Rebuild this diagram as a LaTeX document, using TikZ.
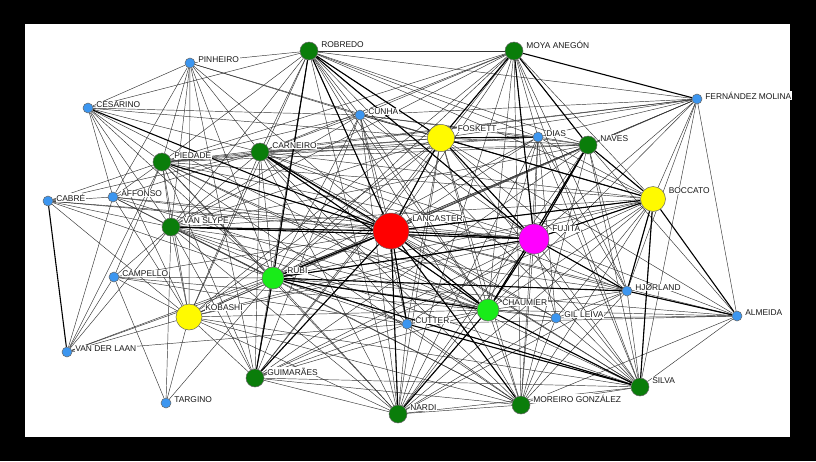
\documentclass[tikz,border=0pt]{standalone}
\usepackage{fontspec}
\setmainfont{Liberation Sans}
\pgfdeclarelayer{bglayer}
\pgfdeclarelayer{edgelayer}
\pgfsetlayers{bglayer,edgelayer,main}
\definecolor{dgreen}{RGB}{10,125,10}
\definecolor{lgreen}{RGB}{25,235,25}
\definecolor{nblue}{RGB}{60,150,240}
\definecolor{nyellow}{RGB}{255,250,0}
\definecolor{nmag}{RGB}{255,0,255}
\definecolor{nred}{RGB}{255,0,0}
\tikzset{
  vtx/.style={circle, draw=black!60, line width=0.5pt, inner sep=0pt},
  lbl/.style={anchor=west, font=\fontsize{8.4}{9}\selectfont, text=black!90, fill=white, inner sep=0.6pt},
  thinedge/.style={line width=0.45pt, draw=black!80},
  thickedge/.style={line width=1.1pt, draw=black}
}
\begin{document}
\begin{tikzpicture}[x=1pt,y=-1pt]
\begin{pgfonlayer}{bglayer}
\fill[black] (0,0) rectangle (816,461);
\fill[white] (25,24) rectangle (790,437);
\end{pgfonlayer}
\useasboundingbox (0,0) rectangle (816,461);
% nodes: id / x / y / colour / diameter / text
\foreach \id/\x/\y/\col/\d/\txt in {
  rob/309/51/dgreen/18/ROBREDO,
  pin/190/63/nblue/10/PINHEIRO,
  ces/88/108/nblue/10/CESARINO,
  cun/360/115/nblue/10/CUNHA,
  car/260/152/dgreen/18/CARNEIRO,
  pie/162/162/dgreen/18/PIEDADE,
  cab/48/201/nblue/10/CABRÉ,
  aff/113/197/nblue/10/AFFONSO,
  vsl/171/227/dgreen/18/VAN SLYPE,
  lan/391/231/nred/36/LANCASTER,
  moy/514/51/dgreen/18/MOYA ANEGÓN,
  fer/697/99/nblue/10/FERNÁNDEZ MOLINA,
  fos/441/138/nyellow/27/FOSKETT,
  dia/538/137/nblue/10/DIAS,
  nav/588/145/dgreen/18/NAVES,
  boc/653/199/nyellow/25/BOCCATO,
  fuj/534/239/nmag/30/FUJITA,
  rub/273/278/lgreen/22/RUBI,
  cam/114/277/nblue/10/CAMPELLO,
  kob/189/317/nyellow/26/KOBASHI,
  vdl/67/352/nblue/10/VAN DER LAAN,
  gui/255/378/dgreen/18/GUIMARÃES,
  tar/166/403/nblue/10/TARGINO,
  nar/398/414/dgreen/18/NARDI,
  hjo/627/291/nblue/10/HJØRLAND,
  cha/488/310/lgreen/22/CHAUMIER,
  cut/407/324/nblue/10/CUTTER,
  gil/556/318/nblue/10/GIL LEIVA,
  alm/737/316/nblue/10/ALMEIDA,
  sil/640/387/dgreen/18/SILVA,
  mor/521/405/dgreen/18/MOREIRO GONZÁLEZ}
{
  \node[vtx, fill=\col, minimum size=\d pt] (\id) at (\x,\y) {};
  \node[lbl] (\id-t) at (\x+\d/2+2.5, \y-\d*0.35) {\txt};
}
\begin{pgfonlayer}{edgelayer}
\def\hubs{lan,fuj,fos,boc,rub,cha,kob,rob,moy,car,pie,vsl,nav,gui,nar,mor,sil}
\foreach \a [count=\i] in \hubs {
  \foreach \b [count=\j] in \hubs {
    \ifnum\i<\j \draw[thinedge] (\a) -- (\b);\fi
  }
}
\foreach \a/\b in {
  cun/rob, cun/moy, cun/car, cun/pie, cun/lan, cun/fos, cun/fuj, cun/boc, cun/rub, cun/cha, cun/nar, cun/gui, cun/vsl, cun/nav, cun/dia, cun/cut, cun/ces, cun/pin, cun/fer,
  dia/fos, dia/moy, dia/rob, dia/nav, dia/boc, dia/fuj, dia/lan, dia/rub, dia/cha, dia/car, dia/pie, dia/nar, dia/mor, dia/sil, dia/gil, dia/hjo, dia/fer,
  hjo/boc, hjo/fuj, hjo/lan, hjo/fos, hjo/rub, hjo/cha, hjo/nav, hjo/moy, hjo/sil, hjo/alm, hjo/gil, hjo/car, hjo/vsl, hjo/nar, hjo/mor, hjo/fer,
  gil/cha, gil/fuj, gil/lan, gil/boc, gil/sil, gil/mor, gil/nar, gil/rub, gil/alm, gil/car,
  cut/lan, cut/fuj, cut/rub, cut/cha, cut/mor, cut/nar, cut/gui, cut/fos, cut/car, cut/vsl, cut/alm, cut/cam, cut/vdl,
  pin/ces, pin/rob, pin/pie, pin/car, pin/vsl, pin/kob, pin/rub, pin/aff, pin/lan, pin/fos, pin/gui,
  ces/rob, ces/pie, ces/vsl, ces/aff, ces/kob, ces/car, ces/fos, ces/cha, ces/rub,
  cab/aff, cab/vsl, cab/lan, cab/rub, cab/kob, cab/pie, cab/car, cab/fuj,
  aff/vdl, aff/vsl, aff/kob, aff/lan, aff/rub, aff/car, aff/cha, aff/fuj, aff/pie,
  vdl/cam, vdl/vsl, vdl/kob, vdl/pie, vdl/rub, vdl/lan,
  cam/vsl, cam/kob, cam/tar, cam/pie, cam/lan, cam/rub, cam/cha,
  tar/kob, tar/rub, tar/vsl,
  alm/fer, alm/sil, alm/cha, alm/fuj, alm/lan, alm/rub, alm/nav, alm/fos, alm/mor,
  fer/boc, fer/sil, fer/nav, fer/fos, fer/lan, fer/fuj, fer/rob, fer/car, fer/cha, fer/pie, fer/rub}
  \draw[thinedge] (\a) -- (\b);
\foreach \a/\b in {
  lan/fuj, lan/fos, lan/rub, lan/cha, lan/boc, lan/vsl, lan/car, lan/pie, lan/nar, lan/cut, lan/rob, lan/gui,
  fuj/fos, fuj/boc, fuj/cha, fuj/rub, fuj/moy, fuj/nav, fuj/hjo, fuj/vsl,
  fos/moy, fos/boc, fos/rob, fos/dia, rub/gui, rub/sil, rub/cha, rub/hjo,
  cha/sil, cha/nar, boc/sil, boc/alm, boc/hjo, boc/nav, moy/fer, moy/nav,
  ces/lan, cab/vdl, alm/hjo, cut/sil, car/cha, rob/rub, rob/fuj, mor/lan, nav/cha}
  \draw[thickedge] (\a) -- (\b);
\end{pgfonlayer}
\end{tikzpicture}
\end{document}
